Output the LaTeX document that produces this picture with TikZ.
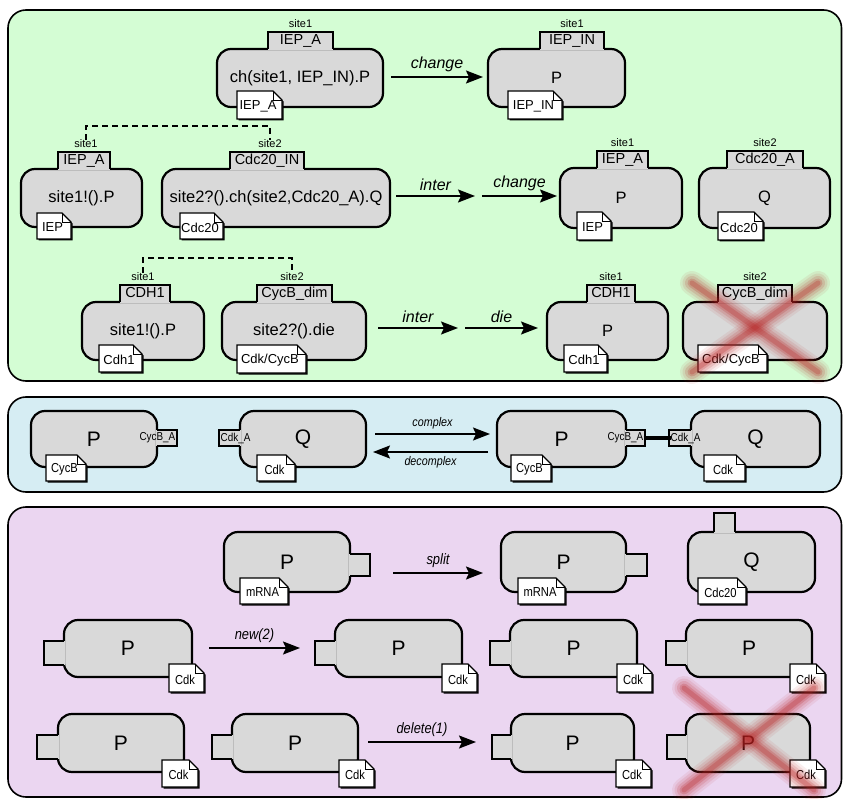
\documentclass[tikz,border=0pt]{standalone}
\usepackage{fontspec}
\setmainfont{Liberation Sans}
\newfontfamily\narrowfont[FakeStretch=0.86]{Liberation Sans}
\usetikzlibrary{arrows.meta}

\definecolor{greenbg}{HTML}{D4FDD4}
\definecolor{bluebg}{HTML}{D6EDF3}
\definecolor{purplebg}{HTML}{EBD6F1}
\definecolor{bodygray}{HTML}{D9D9D9}
\definecolor{crossred}{HTML}{B82020}

% font sizes (1 unit = 1pt)
\newcommand\dgbody{\fontsize{16.5}{18}\selectfont}
\newcommand\dgbig{\fontsize{21}{24}\selectfont}
\newcommand\dgtab{\fontsize{14.5}{16}\selectfont}
\newcommand\dgsite{\fontsize{11}{12}\selectfont}
\newcommand\dgnote{\fontsize{13}{14}\selectfont}
\newcommand\dgnarrownote{\narrowfont\fontsize{13}{14}\selectfont}
\newcommand\dgside{\narrowfont\fontsize{11.5}{12}\selectfont}
\newcommand\dglab{\itshape\fontsize{16}{18}\selectfont}
\newcommand\dgsmalllab{\narrowfont\itshape\fontsize{12.5}{14}\selectfont}
\newcommand\dgmidlab{\narrowfont\itshape\fontsize{15}{16}\selectfont}

\tikzset{
  panel/.style={draw=black, line width=1.6pt, rounded corners=18pt},
  outline/.style={draw=black, line width=2.2pt},
  procbody/.style={outline, fill=bodygray, rounded corners=14pt, inner sep=0pt},
  tabtext/.style={inner sep=0pt, font=\dgtab, anchor=base},
  sitename/.style={inner sep=0pt, font=\dgsite, anchor=base},
  sidetext/.style={inner sep=0pt, font=\dgside},
  notepaper/.style={draw=black, fill=white, line width=1.2pt},
  notetext/.style={inner sep=0pt, font=\dgnote},
  flow/.style={line width=1.8pt, -{Stealth[length=17pt,width=13pt,inset=3pt]}},
  flowlabel/.style={above=4pt, inner sep=0pt},
  bondline/.style={dash pattern=on 6pt off 4pt, line width=1.5pt},
  complexbond/.style={line width=4pt},
}

% process body: [font] name, left, top, right, bottom, text
\newcommand\procnode[7][]{%
  \node[procbody, minimum width={(#5-#3)*1pt}, minimum height={(#6-#4)*1pt}, #1]
    (#2) at ({(#3+#5)/2},{(#4+#6)/2}) {#7};}

% site tab on top of a body: x centre, width, body top, height
\newcommand\toptab[4]{%
  \fill[bodygray] ({#1-#2/2},{#3+1.4}) rectangle ({#1+#2/2},{#3-#4});
  \draw[outline] ({#1-#2/2},#3) -- ({#1-#2/2},{#3-#4}) -- ({#1+#2/2},{#3-#4}) -- ({#1+#2/2},#3);}

% site tab on the right side: body right, y centre, outer x, height
\newcommand\righttab[4]{%
  \fill[bodygray] ({#1-1.4},{#2-#4/2}) rectangle (#3,{#2+#4/2});
  \draw[outline] (#1,{#2-#4/2}) -- (#3,{#2-#4/2}) -- (#3,{#2+#4/2}) -- (#1,{#2+#4/2});}

% site tab on the left side: body left, y centre, outer x, height
\newcommand\lefttab[4]{%
  \fill[bodygray] ({#1+1.4},{#2-#4/2}) rectangle (#3,{#2+#4/2});
  \draw[outline] (#1,{#2-#4/2}) -- (#3,{#2-#4/2}) -- (#3,{#2+#4/2}) -- (#1,{#2+#4/2});}

% dog-eared note: [font] name, left, top, right, bottom, text
\newcommand\docnote[7][]{%
  \fill[black] ({#3+1.5},{#4+1.5}) -- ({#5+1.5-9},{#4+1.5}) -- ({#5+1.5},{#4+10.5})
     -- ({#5+1.5},{#6+1.5}) -- ({#3+1.5},{#6+1.5}) -- cycle;
  \filldraw[notepaper] (#3,#4) -- ({#5-9},#4) -- (#5,{#4+9}) -- (#5,#6) -- (#3,#6) -- cycle;
  \draw[line width=0.9pt] ({#5-9},#4) -- ({#5-9},{#4+9}) -- (#5,{#4+9});
  \node[notetext, #1] (#2) at ({(#3+#5)/2-1.5},{(#4+#6)/2+1.5}) {#7};}

% blurred red cross over a removed element
\newcommand\redcross[4]{%
  \foreach \w/\o in {24/0.08,19/0.1,14/0.14,9/0.2,5/0.25}{%
    \draw[crossred, line width=\w pt, opacity=\o, line cap=round] (#1,#2) -- (#3,#4);
    \draw[crossred, line width=\w pt, opacity=\o, line cap=round] (#3,#2) -- (#1,#4);}}

\begin{document}
\begin{tikzpicture}[x=1pt, y=-1pt]
\useasboundingbox (0,0) rectangle (843,799);

% ---------------- panels ----------------
\path[panel, fill=greenbg]  (8,10)  rectangle (841.5,381);
\path[panel, fill=bluebg]   (8,397) rectangle (841.5,492);
\path[panel, fill=purplebg] (8,507) rectangle (841.5,797);

% ================= channel change / interaction =================
% row 1
\procnode[font=\dgbody]{n1}{217}{49}{383}{107}{ch(site1, IEP\_IN).P}
\toptab{300.5}{65}{49}{17}
\node[tabtext] (n1t) at (300.5,44.5) {IEP\_A};
\node[sitename] (n1s) at (300.5,28) {site1};
\docnote{n1m}{237}{91}{282}{119}{IEP\_A}

\procnode[font=\dgbody]{n2}{488}{49}{625}{107}{P}
\toptab{572}{64}{49}{17}
\node[tabtext] (n2t) at (572,44.5) {IEP\_IN};
\node[sitename] (n2s) at (572,28) {site1};
\docnote{n2m}{508}{91}{562}{119}{IEP\_IN}

\coordinate (f1a) at (391,77); \coordinate (f1b) at (483,77);
\draw[flow] (f1a) -- node[flowlabel, font=\dglab] {change} (f1b);

% row 2
\procnode[font=\dgbody]{n3}{21}{169}{142}{227}{site1!().P}
\toptab{84}{52}{169}{17}
\node[tabtext] (n3t) at (84,164.5) {IEP\_A};
\node[sitename] (n3s) at (86,148) {site1};
\docnote{n3m}{37}{213}{71}{239}{IEP}

\procnode[font=\dgbody]{n4}{162}{169}{390}{227}{site2?().ch(site2,Cdc20\_A).Q}
\toptab{267}{74}{169}{17}
\node[tabtext] (n4t) at (267,164.5) {Cdc20\_IN};
\node[sitename] (n4s) at (270,148) {site2};
\docnote{n4m}{180}{213}{223}{239}{Cdc20}

\draw[bondline] (n3s.north) -- (n3s.north |- 0,126) -| (n4s.north);

\coordinate (f2a) at (396,196); \coordinate (f2b) at (475,196);
\draw[flow] (f2a) -- node[flowlabel, font=\dglab] {inter} (f2b);
\coordinate (f3a) at (482,196); \coordinate (f3b) at (557,196);
\draw[flow] (f3a) -- node[flowlabel, font=\dglab] {change} (f3b);

\procnode[font=\dgbody]{n5}{560}{168}{682}{228}{P}
\toptab{622.5}{51}{168}{17}
\node[tabtext] (n5t) at (622.5,163.5) {IEP\_A};
\node[sitename] (n5s) at (622.5,147) {site1};
\docnote{n5m}{577}{212}{611}{240}{IEP}

\procnode[font=\dgbody]{n6}{699}{168}{830}{228}{Q}
\toptab{765}{76}{168}{17}
\node[tabtext] (n6t) at (765,163.5) {Cdc20\_A};
\node[sitename] (n6s) at (765,147) {site2};
\docnote{n6m}{718}{212}{763}{240}{Cdc20}

% row 3
\procnode[font=\dgbody]{n7}{82}{302}{204}{360}{site1!().P}
\toptab{145}{50}{302}{17}
\node[tabtext] (n7t) at (145,297.5) {CDH1};
\node[sitename] (n7s) at (143,281) {site1};
\docnote{n7m}{99}{345}{142}{372}{Cdh1}

\procnode[font=\dgbody]{n8}{222}{302}{366}{360}{site2?().die}
\toptab{294.5}{75}{302}{17}
\node[tabtext] (n8t) at (294.5,297.5) {CycB\_dim};
\node[sitename] (n8s) at (292,281) {site2};
\docnote{n8m}{237}{345}{306}{373}{Cdk/CycB}

\draw[bondline] (n7s.north) -- (n7s.north |- 0,258) -| (n8s.north);

\coordinate (f4a) at (378,328); \coordinate (f4b) at (458,328);
\draw[flow] (f4a) -- node[flowlabel, font=\dglab] {inter} (f4b);
\coordinate (f5a) at (465,328); \coordinate (f5b) at (538,328);
\draw[flow] (f5a) -- node[flowlabel, font=\dglab] {die} (f5b);

\procnode[font=\dgbody]{n9}{547}{302}{668}{360}{P}
\toptab{611}{48}{302}{17}
\node[tabtext] (n9t) at (611,297.5) {CDH1};
\node[sitename] (n9s) at (611,281) {site1};
\docnote{n9m}{564}{345}{607}{372}{Cdh1}

\procnode[font=\dgbody]{n10}{683}{302}{827}{360}{}
\toptab{755}{74}{302}{17}
\node[tabtext] (n10t) at (755,297.5) {CycB\_dim};
\node[sitename] (n10s) at (755,281) {site2};
\docnote{n10m}{698}{345}{767}{372}{Cdk/CycB}
\redcross{692}{283}{818}{372}

% ================= complexation =================
\procnode[font=\dgbig]{b1}{31}{411}{157}{467}{P}
\righttab{157}{438}{177}{16}
\node[sidetext, anchor=east] (b1t) at (175.5,438) {CycB\_A};
\docnote[font=\dgnarrownote]{b1m}{46}{455}{86}{481}{CycB}

\procnode[font=\dgbig]{b2}{240}{411}{366}{467}{Q}
\lefttab{240}{438}{219}{16}
\node[sidetext, anchor=west] (b2t) at (220.5,438) {Cdk\_A};
\docnote[font=\dgnarrownote]{b2m}{257}{455}{295}{481}{Cdk}

\coordinate (f6a) at (375,434); \coordinate (f6b) at (490,434);
\draw[flow] (f6a) -- node[flowlabel, font=\dgsmalllab] {complex} (f6b);
\coordinate (f7a) at (488,452); \coordinate (f7b) at (373,452);
\draw[flow] (f7a) -- node[below=4pt, inner sep=0pt, font=\dgsmalllab] {decomplex} (f7b);

\procnode[font=\dgbig]{b3}{497}{411}{626}{467}{P}
\righttab{626}{438}{645}{16}
\node[sidetext, anchor=east] (b3t) at (643.5,438) {CycB\_A};
\docnote[font=\dgnarrownote]{b3m}{511}{455}{551}{481}{CycB}

\procnode[font=\dgbig]{b4}{691}{411}{820}{467}{Q}
\lefttab{691}{438}{669}{16}
\node[sidetext, anchor=west] (b4t) at (670.5,438) {Cdk\_A};
\docnote[font=\dgnarrownote]{b4m}{704}{455}{745}{481}{Cdk}

\draw[complexbond] (b3t.east) -- (b4t.west);

% ================= split / new / delete =================
\procnode[font=\dgbig]{u1}{224}{532}{350}{592}{P}
\righttab{350}{565}{370}{22}
\docnote[font=\dgnarrownote]{u1m}{240}{578}{288}{604}{mRNA}

\coordinate (f8a) at (393,573); \coordinate (f8b) at (483,573);
\draw[flow] (f8a) -- node[flowlabel, font=\dgmidlab] {split} (f8b);

\procnode[font=\dgbig]{u2}{501}{532}{626}{592}{P}
\righttab{626}{565}{647}{22}
\docnote[font=\dgnarrownote]{u2m}{518}{578}{565}{604}{mRNA}

\procnode[font=\dgbig]{u3}{688}{532}{815}{592}{Q}
\toptab{724.5}{21}{532}{19}
\docnote[font=\dgnarrownote]{u3m}{698}{578}{746}{604}{Cdc20}

% new(2)
\procnode[font=\dgbig]{v1}{64}{620}{192}{677}{P}
\lefttab{64}{653}{44}{24}
\docnote[font=\dgnarrownote]{v1m}{169}{664}{204}{692}{Cdk}

\coordinate (f9a) at (209,648); \coordinate (f9b) at (300,648);
\draw[flow] (f9a) -- node[flowlabel, font=\dgmidlab] {new(2)} (f9b);

\procnode[font=\dgbig]{v2}{335}{620}{462}{677}{P}
\lefttab{335}{653}{315}{24}
\docnote[font=\dgnarrownote]{v2m}{442}{664}{477}{692}{Cdk}

\procnode[font=\dgbig]{v3}{510}{620}{637}{677}{P}
\lefttab{510}{653}{490}{24}
\docnote[font=\dgnarrownote]{v3m}{617}{664}{652}{692}{Cdk}

\procnode[font=\dgbig]{v4}{686}{620}{812}{677}{P}
\lefttab{686}{653}{666}{24}
\docnote[font=\dgnarrownote]{v4m}{790}{664}{825}{692}{Cdk}

% delete(1)
\procnode[font=\dgbig]{w1}{58}{714}{184}{772}{P}
\lefttab{58}{747}{37}{24}
\docnote[font=\dgnarrownote]{w1m}{162}{760}{198}{787}{Cdk}

\procnode[font=\dgbig]{w2}{232}{714}{358}{772}{P}
\lefttab{232}{747}{212}{24}
\docnote[font=\dgnarrownote]{w2m}{339}{760}{374}{787}{Cdk}

\coordinate (f10a) at (368,742); \coordinate (f10b) at (476,742);
\draw[flow] (f10a) -- node[flowlabel, font=\dgmidlab] {delete(1)} (f10b);

\procnode[font=\dgbig]{w3}{511}{714}{634}{772}{P}
\lefttab{511}{747}{492}{24}
\docnote[font=\dgnarrownote]{w3m}{616}{760}{651}{787}{Cdk}

\procnode[font=\dgbig]{w4}{686}{714}{810}{772}{P}
\lefttab{686}{747}{667}{24}
\docnote[font=\dgnarrownote]{w4m}{790}{760}{825}{787}{Cdk}
\redcross{684}{688}{814}{790}

\end{tikzpicture}
\end{document}
